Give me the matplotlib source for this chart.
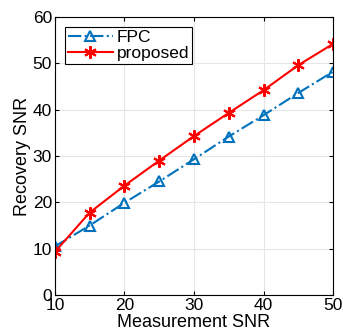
import numpy as np
import matplotlib
matplotlib.use("Agg")
import matplotlib.pyplot as plt

# values
snr_meas = [10, 15, 20, 25, 30, 35, 40, 45, 50]
fpc = [10.5, 15.0, 19.9, 24.5, 29.3, 34.2, 38.8, 43.6, 48.2]
proposed = [9.3, 17.8, 23.6, 29.0, 34.3, 39.3, 44.2, 49.6, 54.2]

plt.rcParams['font.family'] = ['Liberation Sans', 'DejaVu Sans']

fig = plt.figure(figsize=(3.43, 3.33), dpi=100)
ax = fig.add_axes([0.160, 0.114, 0.811, 0.835])

ax.plot(snr_meas, fpc, '-.', color='#0072BD', marker='^', markersize=7,
        markerfacecolor='none', markeredgewidth=1.5, linewidth=1.5, label='FPC')
ax.plot(snr_meas, proposed, '-', color='#FF0000', marker=(6, 2, 0), markersize=9,
        markeredgewidth=1.5, linewidth=1.5, label='proposed')

ax.set_xlim(10, 50)
ax.set_ylim(0, 60)
ax.set_xticks(np.arange(10, 51, 10))
ax.set_yticks(np.arange(0, 61, 10))
ax.grid(True, color='#e6e6e6', linewidth=0.8)
ax.set_axisbelow(True)
ax.tick_params(direction='in', labelsize=12.5, length=3, top=True, right=True, pad=2)
for s in ax.spines.values():
    s.set_linewidth(0.8)
ax.set_xlabel("Measurement SNR", fontsize=13, labelpad=1)
ax.set_ylabel("Recovery SNR", fontsize=13, labelpad=1)

leg = ax.legend(loc='upper left', fontsize=12.5, fancybox=False, framealpha=1,
                edgecolor='black', borderpad=0.15, handlelength=2.6,
                labelspacing=0.05, handletextpad=0.2, borderaxespad=0.6)
leg.get_frame().set_linewidth(0.8)

fig.savefig("out.png", dpi=100)
